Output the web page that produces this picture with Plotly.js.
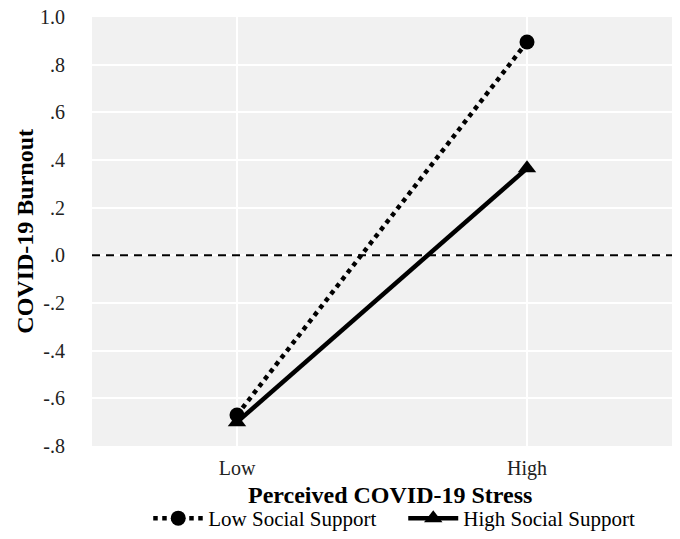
<!DOCTYPE html>
<html>
<head>
<script src="https://cdn.plot.ly/plotly-3.0.1.min.js"></script>
<style>body{margin:0;background:#fff;}#chart{width:680px;height:539px;}</style>
</head>
<body>
<div id="chart"></div>
<script>
var categories = ["Low", "High"];
var lowSupport = [-0.67, 0.895];
var highSupport = [-0.70, 0.365];
var yTickVals = [-0.8, -0.6, -0.4, -0.2, 0, 0.2, 0.4, 0.6, 0.8, 1.0];
var yTickText = ["-.8", "-.6", "-.4", "-.2", ".0", ".2", ".4", ".6", ".8", "1.0"];
var xTitle = "Perceived COVID-19 Stress";
var yTitle = "COVID-19 Burnout";

var font = "Liberation Serif";

var traces = [
  {
    x: categories, y: lowSupport, name: "Low Social Support",
    type: "scatter", mode: "lines+markers",
    line: {color: "#000", width: 4.5, dash: "dot"},
    marker: {symbol: "circle", size: 15, color: "#000"}
  },
  {
    x: categories, y: highSupport, name: "High Social Support",
    type: "scatter", mode: "lines+markers",
    line: {color: "#000", width: 4.5, dash: "solid"},
    marker: {symbol: "triangle-up", size: 16, color: "#000"}
  }
];

var layout = {
  width: 680, height: 539,
  margin: {l: 92, r: 8, t: 17, b: 93},
  paper_bgcolor: "#fff",
  plot_bgcolor: "#f1f1f1",
  font: {family: font, size: 20, color: "#000"},
  showlegend: true,
  legend: {orientation: "h", x: 0.593, xanchor: "center", xref: "container",
           y: -0.019, yanchor: "bottom", yref: "container", entrywidth: 190, itemwidth: 50,
           font: {family: font, size: 21, color: "#000"}, bgcolor: "rgba(0,0,0,0)"},
  xaxis: {
    type: "category", range: [-0.5, 1.5], automargin: false,
    showgrid: true, gridcolor: "#fff", gridwidth: 2,
    zeroline: false, showline: false,
    ticks: "outside", ticklen: 4, tickcolor: "rgba(0,0,0,0)",
    tickfont: {family: font, size: 20, color: "#222"}
  },
  yaxis: {
    range: [-0.8, 1.0], tickvals: yTickVals, ticktext: yTickText, automargin: false,
    showgrid: true, gridcolor: "#fff", gridwidth: 2,
    zeroline: false, showline: false,
    ticks: "outside", ticklen: 22, tickcolor: "rgba(0,0,0,0)",
    tickfont: {family: font, size: 20, color: "#222"}
  },
  annotations: [
    {text: "<b>" + xTitle + "</b>", xref: "paper", yref: "paper", x: 0.514, y: -0.114,
     xanchor: "center", yanchor: "middle", showarrow: false,
     font: {family: font, size: 24, color: "#000"}},
    {text: "<b>" + yTitle + "</b>", xref: "paper", yref: "paper", x: -0.117, y: 0.5,
     xanchor: "center", yanchor: "middle", showarrow: false, textangle: -90,
     font: {family: font, size: 24, color: "#000"}}
  ],
  shapes: [{
    type: "line", xref: "paper", x0: 0, x1: 1, yref: "y", y0: 0, y1: 0,
    line: {color: "#000", width: 2, dash: "8px,6px"}, layer: "above"
  }]
};

Plotly.newPlot("chart", traces, layout, {displayModeBar: false});
</script>
</body>
</html>
